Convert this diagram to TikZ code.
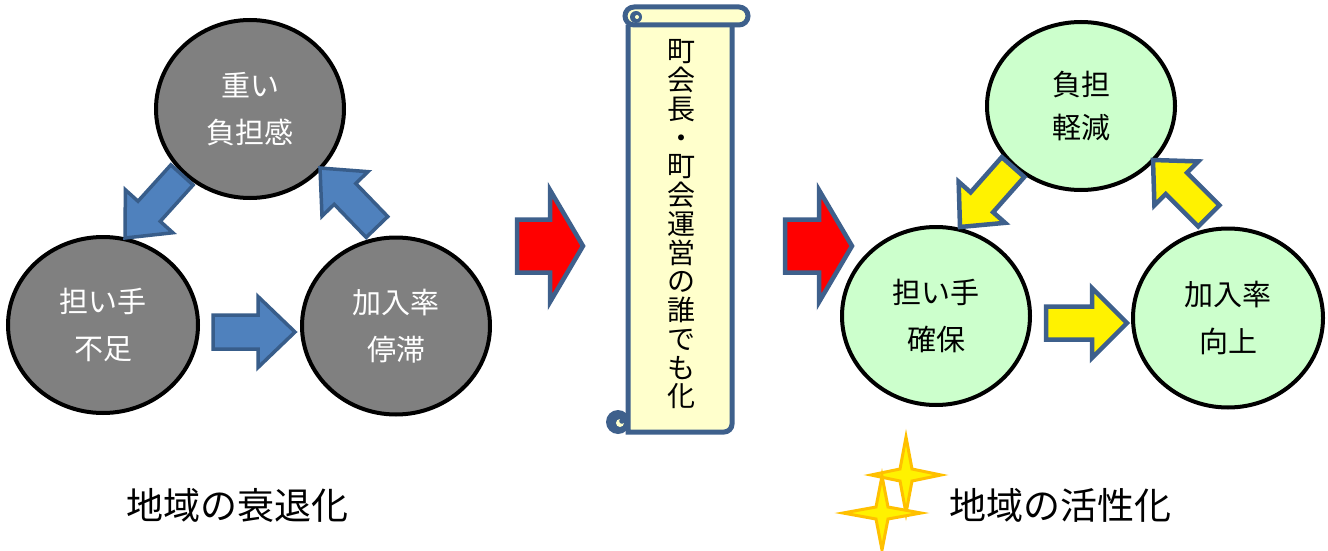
\documentclass[tikz,border=0pt]{standalone}
\usepackage{fontspec}
\newfontfamily\jp{Noto Sans CJK JP}
\usetikzlibrary{shapes.geometric}
\definecolor{greyfill}{RGB}{128,128,128}
\definecolor{greenfill}{RGB}{204,255,204}
\definecolor{bluefill}{RGB}{79,129,189}
\definecolor{blueline}{RGB}{56,93,138}
\definecolor{navyline}{RGB}{62,96,140}
\definecolor{cream}{RGB}{255,255,204}
\definecolor{starline}{RGB}{255,192,0}
% tip x, tip y, angle, length, shaft half width, head half width, head length, style
\newcommand{\blockarrow}[8]{%
  \begin{scope}[shift={(#1,#2)},rotate=#3]
    \draw[#8] (-#4,-#5) -- (-#7,-#5) -- (-#7,-#6) -- (0,0) -- (-#7,#6) -- (-#7,#5) -- (-#4,#5) -- cycle;
  \end{scope}}
% centre x, centre y, vertical half, horizontal half, inner
\newcommand{\sparklestar}[5]{%
  \draw[sparkle] (#1,#2-#3) -- (#1+#5,#2-#5) -- (#1+#4,#2) -- (#1+#5,#2+#5) -- (#1,#2+#3) -- (#1-#5,#2+#5) -- (#1-#4,#2) -- (#1-#5,#2-#5) -- cycle;}
\tikzset{
  bubble/.style={ellipse, line width=4pt, draw=black, inner sep=0pt, align=center,
    font=\jp\fontsize{29}{47}\selectfont},
  greybubble/.style={bubble, fill=greyfill, text=white},
  greenbubble/.style={bubble, fill=greenfill, text=black},
  bluearrow/.style={fill=bluefill, draw=blueline, line width=3.5pt},
  yellowarrow/.style={fill=yellow, draw=navyline, line width=4.5pt},
  redarrow/.style={fill=red, draw=navyline, line width=4.5pt},
  scroll/.style={draw=navyline, line width=5pt, fill=cream},
  sparkle/.style={fill=yellow, draw=starline, line width=3pt, line join=miter},
  caption/.style={font=\jp\fontsize{37}{40}\selectfont, inner sep=0pt},
  scrolltext/.style={font=\jp\fontsize{28}{28.75}\selectfont, align=center, inner sep=0pt}
}
\begin{document}
\begin{tikzpicture}[x=1pt,y=-1pt]
\useasboundingbox (0,0) rectangle (1328,551);
\fill[white] (0,0) rectangle (1328,551);

% left cycle
\node[greybubble, minimum width=188pt, minimum height=178pt] (heavy) at (250,109) {重い\\負担感};
\node[greybubble, minimum width=190pt, minimum height=176pt] (lack) at (103,325) {担い手\\不足};
\node[greybubble, minimum width=188pt, minimum height=177pt] (stag) at (396,326) {加入率\\停滞};
\blockarrow{125}{238}{-132.1}{85}{15}{32}{36}{bluearrow}
\blockarrow{320}{168}{134}{82}{15}{32}{36}{bluearrow}
\blockarrow{295}{332}{0}{82}{17}{35.5}{37}{bluearrow}

% red arrows
\blockarrow{583}{246}{0}{66}{26.5}{56}{33}{redarrow}
\blockarrow{852}{246}{0}{67}{26.5}{56}{33}{redarrow}

% scroll
\draw[scroll] (628,25) -- (628,432) -- (724,432) arc[start angle=-90, end angle=0, radius=8pt] -- (732,25);
\draw[scroll, rounded corners=9pt] (625,7) rectangle (748,25);
\fill[navyline] (636,17) circle (6pt);
\fill[cream] (637,17) circle (2pt);
\fill[navyline] (618,422) circle (12pt);
\fill[cream] (620,423) circle (4pt);
\fill[navyline] (622,421) circle (2.8pt);
\node[scrolltext] (scrolltxt) at (681,224.5) {町\\会\\長\\・\\町\\会\\運\\営\\の\\誰\\で\\も\\化};

% right cycle
\node[greenbubble, minimum width=188pt, minimum height=168pt, font=\jp\fontsize{29}{43}\selectfont] (relief) at (1081,106) {負担\\軽減};
\node[greenbubble, minimum width=188pt, minimum height=178pt] (secure) at (936,316) {担い手\\確保};
\node[greenbubble, minimum width=190pt, minimum height=179pt] (rise) at (1228,318) {加入率\\向上};
\blockarrow{960}{227}{-131.5}{80}{15}{31}{33}{yellowarrow}
\blockarrow{1153}{160}{135}{79}{15}{31}{33}{yellowarrow}
\blockarrow{1127}{323}{0}{81}{16.5}{35}{35}{yellowarrow}

% sparkles
\sparklestar{906}{475}{38}{35}{6}
\sparklestar{882}{513}{37}{39}{6}

% captions
\node[caption] (decline) at (237,505) {地域の衰退化};
\node[caption] (revive) at (1060,505) {地域の活性化};
\end{tikzpicture}
\end{document}
